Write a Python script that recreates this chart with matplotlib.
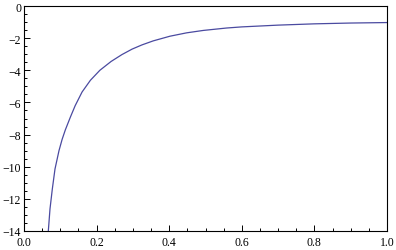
import matplotlib.pyplot as plt
from matplotlib.ticker import MultipleLocator, FormatStrFormatter, FuncFormatter

# points
x_vals = [0.067, 0.0716, 0.078, 0.0854, 0.0964, 0.105, 0.114, 0.128,
          0.141, 0.160, 0.183, 0.209, 0.240, 0.270, 0.298, 0.325, 0.356,
          0.402, 0.448, 0.494, 0.558, 0.60, 0.70, 0.80, 0.90, 1.0]
y_vals = [-14.0, -12.63, -11.39, -10.14, -9.00, -8.30, -7.70, -6.90,
          -6.20, -5.35, -4.62, -4.00, -3.45, -3.02, -2.68, -2.42, -2.17,
          -1.88, -1.67, -1.52, -1.37, -1.30, -1.19, -1.11, -1.06, -1.03]

plt.rcParams['font.family'] = ['Liberation Serif', 'DejaVu Serif']

fig = plt.figure(figsize=(3.96, 2.51), dpi=100)
ax = fig.add_axes([24 / 396, 19 / 251, 363 / 396, 225 / 251])

ax.plot(x_vals, y_vals, color='#4a4aa0', lw=0.9)

ax.set_xlim(0, 1)
ax.set_ylim(-14, 0)
ax.xaxis.set_major_locator(MultipleLocator(0.2))
ax.xaxis.set_minor_locator(MultipleLocator(0.05))
ax.yaxis.set_major_locator(MultipleLocator(2))
ax.yaxis.set_minor_locator(MultipleLocator(0.5))
ax.xaxis.set_major_formatter(FormatStrFormatter('%.1f'))
ax.yaxis.set_major_formatter(FuncFormatter(lambda v, p: f'{int(round(v))}'.replace('-', '\u2212')))

ax.tick_params(which='both', direction='in', top=False, right=False,
               width=0.7, labelsize=8.5)
ax.tick_params(axis='x', pad=3.5)
ax.tick_params(axis='y', pad=2)
ax.tick_params(which='major', length=4)
ax.tick_params(which='minor', length=2.5)
for s in ax.spines.values():
    s.set_linewidth(0.8)

fig.savefig('out.png', dpi=100)
